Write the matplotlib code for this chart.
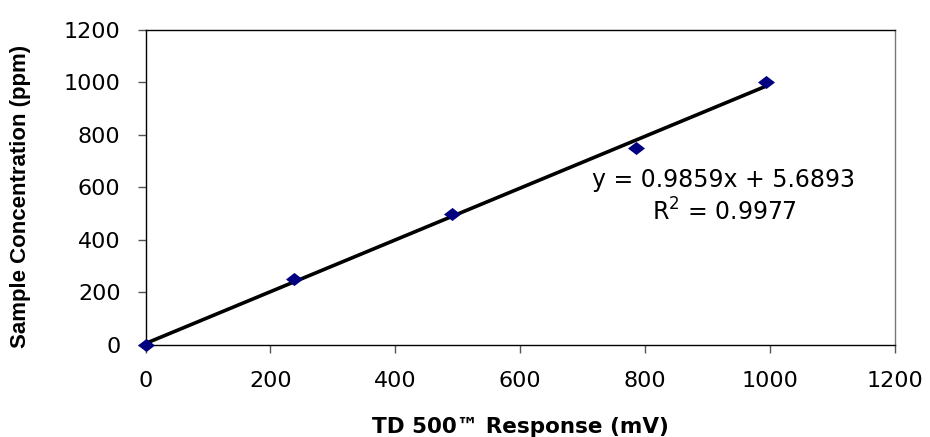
import matplotlib
matplotlib.use("Agg")
import matplotlib.pyplot as plt
from matplotlib.path import Path
import numpy as np

response_mv = [0, 238, 490, 785, 993]
concentration_ppm = [0, 250, 500, 750, 1000]
slope = 0.9859
intercept = 5.6893
r_squared = 0.9977
x_ticks = [0, 200, 400, 600, 800, 1000, 1200]
y_ticks = [0, 200, 400, 600, 800, 1000, 1200]

plt.rcParams['font.family'] = ['DejaVu Sans']

fig = plt.figure(figsize=(9.30, 4.37), dpi=100)
W, H = 930, 437
ax = fig.add_axes([145.5 / W, 1 - 345 / H, (895 - 145.5) / W, (345 - 29.7) / H])

# wide diamond marker
diamond = Path([(-1.3, 0), (0, 1), (1.3, 0), (0, -1), (-1.3, 0)],
               [Path.MOVETO, Path.LINETO, Path.LINETO, Path.LINETO, Path.CLOSEPOLY])

xfit = np.array([0, max(response_mv)])
ax.plot(xfit, slope * xfit + intercept, color='black', lw=2.6, zorder=2, solid_capstyle='butt')
ax.scatter(response_mv, concentration_ppm, marker=diamond, s=150, color='#000080', zorder=3,
           clip_on=False, linewidths=0)

ax.set_xlim(0, 1200)
ax.set_ylim(0, 1200)
ax.set_xticks(x_ticks)
ax.set_yticks(y_ticks)
ax.tick_params(axis='both', direction='out', length=6, width=1, colors='#555555',
               labelsize=16, labelcolor='black')
ax.tick_params(axis='x', pad=13)
ax.tick_params(axis='y', pad=12)
for side in ['top', 'bottom', 'left']:
    ax.spines[side].set_color('black')
    ax.spines[side].set_linewidth(1)
ax.spines['right'].set_color('#777777')
ax.spines['right'].set_linewidth(1)

ax.set_xlabel('TD 500\u2122 Response (mV)', fontsize=15.5, fontweight='bold', va='top')
ax.xaxis.set_label_coords(0.5, (345 - 417) / 315.3)
ax.set_ylabel('Sample Concentration (ppm)', fontsize=16, fontweight='bold',
              family=['Liberation Sans', 'DejaVu Sans'], va='center')
ax.yaxis.set_label_coords((21 - 145.5) / 749.5, (345 - 196) / 315.3)

ax.text(0.771, 0.501, f'y = {slope}x + {intercept}', transform=ax.transAxes,
        ha='center', va='baseline', fontsize=17)
ax.text(0.772, 0.396, f'R$^{{\\mathregular{{2}}}}$ = {r_squared}', transform=ax.transAxes,
        ha='center', va='baseline', fontsize=17)

fig.savefig('out.png', dpi=100)
